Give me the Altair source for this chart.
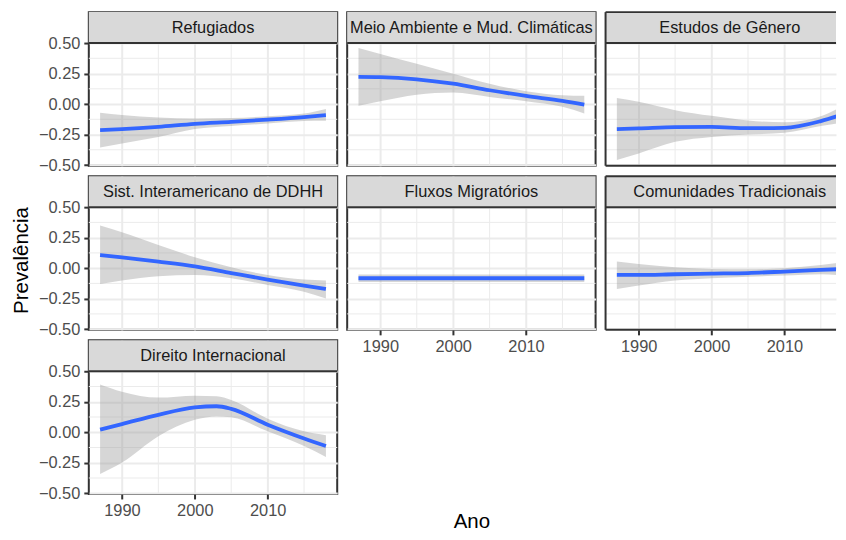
import altair as alt
import pandas as pd

# ---------------- data ----------------
PANELS = [
    "Refugiados",
    "Meio Ambiente e Mud. Climáticas",
    "Estudos de Gênero",
    "Sist. Interamericano de DDHH",
    "Fluxos Migratórios",
    "Comunidades Tradicionais",
    "Direito Internacional",
]

YEARS_STD = [1987, 1990, 1995, 2000, 2005, 2010, 2015, 2018]
YEARS_DI = [1987, 1990, 1995, 2000, 2003, 2005, 2010, 2015, 2018]

FIT = {
    "Refugiados": [-0.214, -0.206, -0.187, -0.162, -0.146, -0.128, -0.107, -0.091],
    "Meio Ambiente e Mud. Climáticas": [0.222, 0.220, 0.203, 0.167, 0.113, 0.067, 0.026, -0.004],
    "Estudos de Gênero": [-0.205, -0.200, -0.190, -0.188, -0.198, -0.195, -0.140, -0.085],
    "Sist. Interamericano de DDHH": [0.108, 0.089, 0.054, 0.015, -0.040, -0.094, -0.143, -0.171],
    "Fluxos Migratórios": [-0.083, -0.083, -0.083, -0.083, -0.083, -0.083, -0.083, -0.083],
    "Comunidades Tradicionais": [-0.056, -0.056, -0.050, -0.045, -0.040, -0.028, -0.015, -0.007],
    "Direito Internacional": [0.022, 0.067, 0.143, 0.203, 0.213, 0.192, 0.062, -0.051, -0.113],
}
LOWER = {
    "Refugiados": [-0.356, -0.323, -0.270, -0.205, -0.180, -0.160, -0.140, -0.138],
    "Meio Ambiente e Mud. Climáticas": [-0.015, 0.023, 0.077, 0.094, 0.058, 0.023, -0.023, -0.078],
    "Estudos de Gênero": [-0.459, -0.405, -0.310, -0.270, -0.250, -0.235, -0.180, -0.152],
    "Sist. Interamericano de DDHH": [-0.130, -0.102, -0.067, -0.056, -0.083, -0.138, -0.193, -0.248],
    "Fluxos Migratórios": [-0.113, -0.113, -0.113, -0.113, -0.113, -0.113, -0.113, -0.113],
    "Comunidades Tradicionais": [-0.171, -0.143, -0.102, -0.083, -0.070, -0.061, -0.050, -0.061],
    "Direito Internacional": [-0.343, -0.249, -0.032, 0.103, 0.130, 0.122, 0.008, -0.113, -0.203],
}
UPPER = {
    "Refugiados": [-0.072, -0.090, -0.110, -0.118, -0.115, -0.100, -0.078, -0.040],
    "Meio Ambiente e Mud. Climáticas": [0.459, 0.410, 0.330, 0.249, 0.167, 0.105, 0.072, 0.067],
    "Estudos de Gênero": [0.050, 0.018, -0.050, -0.097, -0.135, -0.150, -0.100, -0.015],
    "Sist. Interamericano de DDHH": [0.350, 0.295, 0.190, 0.089, 0.007, -0.056, -0.094, -0.102],
    "Fluxos Migratórios": [-0.053, -0.053, -0.053, -0.053, -0.053, -0.053, -0.053, -0.053],
    "Comunidades Tradicionais": [0.054, 0.034, 0.007, -0.007, -0.010, 0.000, 0.026, 0.048],
    "Direito Internacional": [0.391, 0.332, 0.284, 0.300, 0.295, 0.265, 0.111, 0.008, -0.024],
}

MAJOR_X = [1990, 2000, 2010]
MINOR_X = [1995, 2005, 2015]
MAJOR_Y = [-0.5, -0.25, 0.0, 0.25, 0.5]
MINOR_Y = [-0.375, -0.125, 0.125, 0.375]

rows = []
for p in PANELS:
    yrs = YEARS_DI if p == "Direito Internacional" else YEARS_STD
    for yr, f, lo, hi in zip(yrs, FIT[p], LOWER[p], UPPER[p]):
        rows.append({"panel": p, "Ano": yr, "fit": f, "lo": lo, "hi": hi})
df = pd.DataFrame(rows)

minor_x_df = pd.DataFrame({"Ano": MINOR_X})
minor_y_df = pd.DataFrame({"fit": MINOR_Y})
one_df = pd.DataFrame({"k": [0]})

# ---------------- geometry / style ----------------
W, H, S = 249, 154, 31          # full panel width, panel+strip height, strip height
W_CUT = 231                     # right column is cut by the picture edge
X_MIN, X_MAX = 1985.45, 2019.55
LO, HI = -0.506, 0.5
TOP = HI + S * (HI - LO) / (H - S)
FONT = "Liberation Sans"
BORDER = "#333333"
GRID = "#EBEBEB"

X_BOTTOM = {"Fluxos Migratórios", "Comunidades Tradicionais", "Direito Internacional"}


def make_panel(i, name):
    col = i % 3
    show_y = (col == 0)
    show_x = name in X_BOTTOM
    cut = (col == 2)
    w = W_CUT if cut else W
    x_hi = X_MIN + (X_MAX - X_MIN) * w / W
    xs = alt.Scale(domain=[X_MIN, x_hi], nice=False, zero=False)
    ys = alt.Scale(domain=[LO, TOP], nice=False, zero=False)

    xkw = dict(values=MAJOR_X, format="d", grid=True, domain=False,
               labels=show_x, ticks=show_x, title=None)
    ykw = dict(values=MAJOR_Y, format=".2f", grid=True, domain=False,
               labels=show_y, ticks=show_y, title=None)
    if name == "Direito Internacional":
        xkw.update(title="Ano", titleX=383.5, titleY=34, titleAlign="center",
                   titleBaseline="alphabetic")
    if name == "Sist. Interamericano de DDHH":
        ykw.update(title="Prevalência", titleX=-67, titleY=84, titleAlign="center",
                   titleBaseline="middle", titleAngle=270)
    xaxis = alt.Axis(**xkw)
    yaxis = alt.Axis(**ykw)

    d = df[df["panel"] == name]
    x_enc = alt.X("Ano:Q", scale=xs, axis=xaxis)

    minor_x = alt.Chart(minor_x_df).mark_rule(color=GRID, strokeWidth=1, clip=True).encode(
        x=x_enc, y=alt.value(S), y2=alt.value(H))
    minor_y = alt.Chart(minor_y_df).mark_rule(color=GRID, strokeWidth=1).encode(
        y=alt.Y("fit:Q", scale=ys, axis=yaxis), x=alt.value(0), x2=alt.value(w))
    band = alt.Chart(d).mark_area(color="#999999", opacity=0.4, interpolate="monotone",
                                  clip=True).encode(
        x=x_enc, y=alt.Y("lo:Q", scale=ys, axis=yaxis), y2="hi:Q")
    line = alt.Chart(d).mark_line(color="#3366FF", strokeWidth=3.8, interpolate="monotone",
                                  clip=True).encode(
        x=x_enc, y=alt.Y("fit:Q", scale=ys, axis=yaxis))
    strip = alt.Chart(one_df).mark_rect(fill="#D9D9D9").encode(
        x=alt.value(0), x2=alt.value(w), y=alt.value(0), y2=alt.value(S))
    sep = alt.Chart(one_df).mark_rule(color=BORDER, strokeWidth=2).encode(
        x=alt.value(0), x2=alt.value(w), y=alt.value(S))
    label = alt.Chart(one_df).mark_text(
        text=name, font=FONT, fontSize=16.4, color="#1A1A1A",
        align="center", baseline="middle").encode(
        x=alt.value(W / 2), y=alt.value(S / 2 + 0.5))

    layers = [minor_x, minor_y, band, line, strip, sep, label]
    props = dict(width=w, height=H)
    if cut:
        # open-ended frame: left, top and bottom borders only
        left_b = alt.Chart(one_df).mark_rule(color=BORDER, strokeWidth=2).encode(
            x=alt.value(0), y=alt.value(0), y2=alt.value(H))
        top_b = alt.Chart(one_df).mark_rule(color=BORDER, strokeWidth=2).encode(
            x=alt.value(0), x2=alt.value(w), y=alt.value(0))
        bot_b = alt.Chart(one_df).mark_rule(color=BORDER, strokeWidth=2).encode(
            x=alt.value(0), x2=alt.value(w), y=alt.value(H))
        layers += [left_b, top_b, bot_b]
        props["view"] = alt.ViewBackground(stroke="transparent")
    return alt.layer(*layers).properties(**props)


charts = [make_panel(i, p) for i, p in enumerate(PANELS)]

chart = alt.concat(
    *charts, columns=3, spacing=alt.RowColnumber(row=10.5, column=10),
    bounds="flush", align="each"
).properties(
    padding={"left": 3, "top": 1.5, "right": 0, "bottom": 0}
).configure_view(
    stroke=BORDER, strokeWidth=2
).configure_axis(
    labelFont=FONT, labelFontSize=16.4, labelColor="#4D4D4D",
    tickColor=BORDER, tickWidth=2, tickSize=5, labelPadding=4,
    gridColor=GRID, gridWidth=2,
    titleFont=FONT, titleFontSize=20.5, titleFontWeight="normal", titleColor="#000000",
)

chart.save("out.html", embed_options={"renderer": "svg", "actions": False})
